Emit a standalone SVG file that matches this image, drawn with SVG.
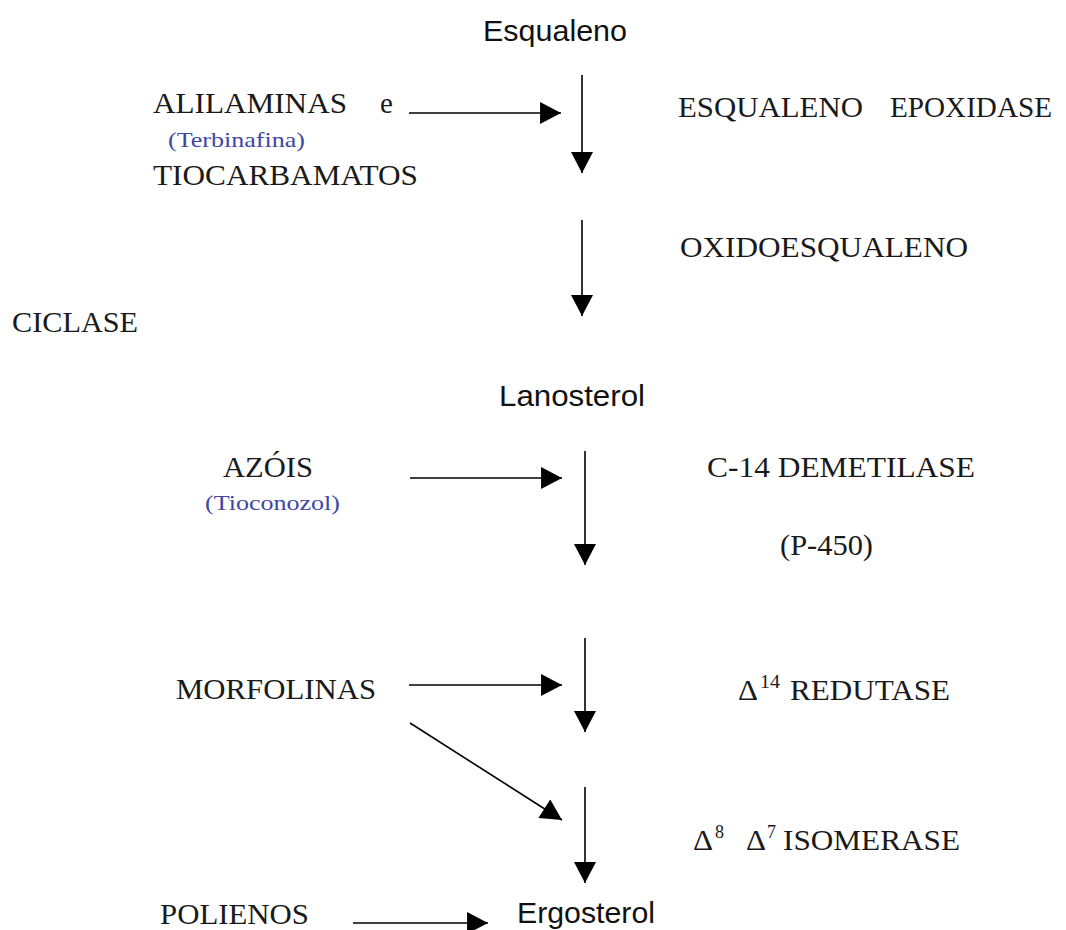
<svg xmlns="http://www.w3.org/2000/svg" width="1066" height="930" viewBox="0 0 1066 930">
<style>
.sans{font-family:"Liberation Sans",Arial,sans-serif;font-size:29px;fill:#111}
.serif{font-family:"Liberation Serif","Times New Roman",serif;font-size:29px;fill:#1a1a1a}
.blue{font-family:"Liberation Serif","Times New Roman",serif;font-size:22px;fill:#3e47a6}
.sup{font-family:"Liberation Serif","Times New Roman",serif;font-size:18px;fill:#1a1a1a}
.conn line{stroke:#000;stroke-width:1.6;fill:none;marker-end:url(#ah)}
</style>
<defs>
<marker id="ah" markerUnits="userSpaceOnUse" markerWidth="22" markerHeight="22" refX="20" refY="10.5" orient="auto" viewBox="0 0 20 21">
<path d="M0,0 L20,10.5 L0,21 Z" fill="#000"/>
</marker>
</defs>
<rect width="1066" height="930" fill="#fff"/>
<g id="esqualeno"><text class="sans" x="483" y="41" textLength="144" lengthAdjust="spacingAndGlyphs">Esqualeno</text></g>
<g id="alilaminas">
<text class="serif" x="153" y="113" textLength="194" lengthAdjust="spacingAndGlyphs">ALILAMINAS</text>
<text class="serif" x="380" y="113">e</text>
<text class="blue" x="168" y="147" textLength="137" lengthAdjust="spacingAndGlyphs">(Terbinafina)</text>
<text class="serif" x="153" y="185" textLength="265" lengthAdjust="spacingAndGlyphs">TIOCARBAMATOS</text>
</g>
<g id="esqualeno-epoxidase">
<text class="serif" x="678" y="117" textLength="185" lengthAdjust="spacingAndGlyphs">ESQUALENO</text>
<text class="serif" x="890" y="117" textLength="162" lengthAdjust="spacingAndGlyphs">EPOXIDASE</text>
</g>
<g id="oxidoesqualeno"><text class="serif" x="680" y="257" textLength="288" lengthAdjust="spacingAndGlyphs">OXIDOESQUALENO</text></g>
<g id="ciclase"><text class="serif" x="12" y="332" textLength="126" lengthAdjust="spacingAndGlyphs">CICLASE</text></g>
<g id="lanosterol"><text class="sans" x="499" y="406" textLength="146" lengthAdjust="spacingAndGlyphs">Lanosterol</text></g>
<g id="azois">
<text class="serif" x="223" y="477" textLength="90" lengthAdjust="spacingAndGlyphs">AZÓIS</text>
<text class="blue" x="205" y="510" textLength="135" lengthAdjust="spacingAndGlyphs">(Tioconozol)</text>
</g>
<g id="c14-demetilase">
<text class="serif" x="707" y="477" textLength="268" lengthAdjust="spacingAndGlyphs">C-14 DEMETILASE</text>
<text class="serif" x="780" y="555" textLength="93" lengthAdjust="spacingAndGlyphs">(P-450)</text>
</g>
<g id="morfolinas"><text class="serif" x="176" y="699" textLength="200" lengthAdjust="spacingAndGlyphs">MORFOLINAS</text></g>
<g id="redutase">
<text class="serif" x="738" y="700" textLength="20" lengthAdjust="spacingAndGlyphs">Δ</text>
<text class="sup" x="760" y="688" textLength="20" lengthAdjust="spacingAndGlyphs">14</text>
<text class="serif" x="790" y="700" textLength="160" lengthAdjust="spacingAndGlyphs">REDUTASE</text>
</g>
<g id="isomerase">
<text class="serif" x="693" y="850" textLength="20" lengthAdjust="spacingAndGlyphs">Δ</text>
<text class="sup" x="715" y="838">8</text>
<text class="serif" x="746" y="850" textLength="20" lengthAdjust="spacingAndGlyphs">Δ</text>
<text class="sup" x="767" y="838">7</text>
<text class="serif" x="783" y="850" textLength="177" lengthAdjust="spacingAndGlyphs">ISOMERASE</text>
</g>
<g id="polienos"><text class="serif" x="160" y="924" textLength="149" lengthAdjust="spacingAndGlyphs">POLIENOS</text></g>
<g id="ergosterol"><text class="sans" x="517" y="923" textLength="138" lengthAdjust="spacingAndGlyphs">Ergosterol</text></g>
<g id="connectors" class="conn">
<line x1="582" y1="75" x2="582" y2="173"/>
<line x1="582" y1="220" x2="582" y2="316"/>
<line x1="585" y1="451" x2="585" y2="565"/>
<line x1="585" y1="638" x2="585" y2="732"/>
<line x1="585" y1="787" x2="585" y2="883"/>
<line x1="409" y1="113" x2="561" y2="113"/>
<line x1="410" y1="478" x2="562" y2="478"/>
<line x1="409" y1="685" x2="562" y2="685"/>
<line x1="410" y1="723" x2="562" y2="820"/>
<line x1="353" y1="923" x2="488" y2="923"/>
</g>
</svg>
